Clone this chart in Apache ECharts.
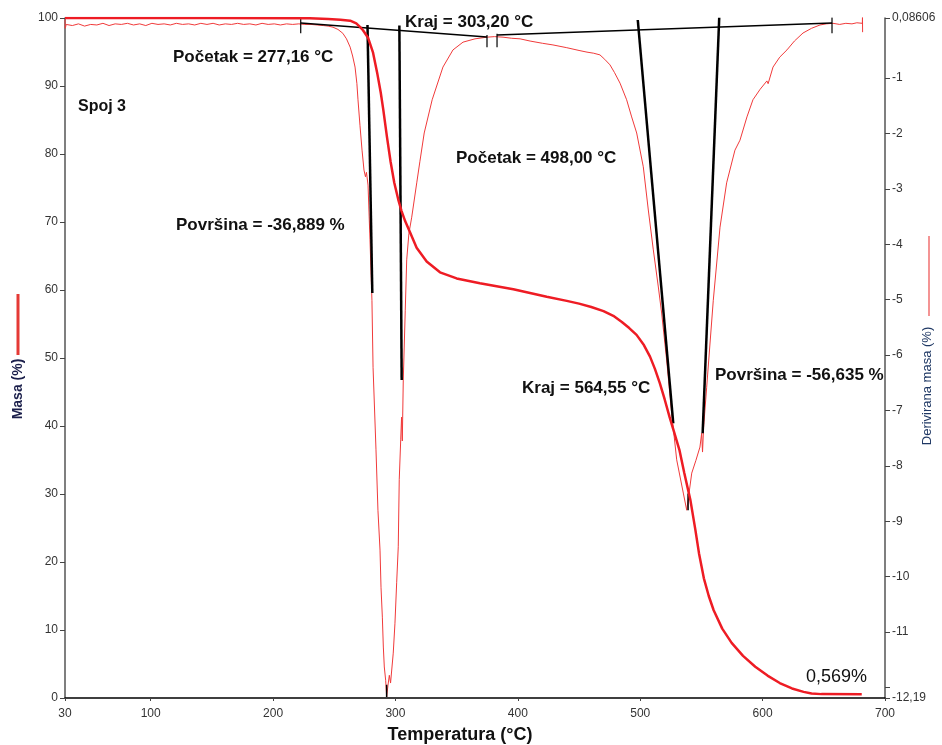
<!DOCTYPE html>
<html>
<head>
<meta charset="utf-8">
<title>Spoj 3 – TG/DTG</title>
<script src="https://cdn.jsdelivr.net/npm/echarts@6/dist/echarts.min.js"></script>
<style>
  html, body { margin: 0; padding: 0; background: #fff; }
  #chart { width: 942px; height: 745px; }
</style>
</head>
<body>
<div id="chart"></div>
<script>
// Temperature axis ticks (°C)
const tempTicks = [30, 100, 200, 300, 400, 500, 600, 700];
// Derivative-mass axis ticks and labels (%)
const dtgTicks = [0.08606, -1, -2, -3, -4, -5, -6, -7, -8, -9, -10, -11, -12, -12.19];
const dtgLabels = [0.08606, -1, -2, -3, -4, -5, -6, -7, -8, -9, -10, -11, -12.19];

// Mass loss curve: [temperature °C, mass %]
const massCurve = [
  [30, 100], [150, 100], [230, 99.95], [245, 99.85], [255, 99.75], [263, 99.6],
  [268, 99.2], [271, 98.7], [273.5, 98.2], [277.6, 97.1], [281.7, 94.9], [285, 92.0],
  [288, 89.0], [290, 86.6], [293, 82.6], [296, 78.9], [299, 75.8], [302.3, 73.3],
  [305, 71.6], [308, 70.1], [311.9, 68.5], [317.3, 66.2], [325.5, 64.2], [336.4, 62.6],
  [350, 61.7], [369, 61.0], [396.3, 60.1], [423.6, 59.0], [440, 58.4], [450, 58.0],
  [460, 57.5], [470, 56.9], [478, 56.2], [485, 55.3], [491, 54.4], [497, 53.4],
  [503, 51.9], [508, 50.2], [512, 48.4], [516, 46.3], [520, 43.9], [524, 41.3],
  [528, 38.9], [532, 36.5], [536, 33.1], [541, 29.1], [545, 24.8], [548, 21.3],
  [552, 17.6], [556, 15.0], [560, 12.9], [567, 10.2], [574.7, 8.1], [584, 6.2],
  [594, 4.6], [604, 3.3], [614, 2.2], [624, 1.4], [633.5, 0.9], [640, 0.65],
  [648, 0.57], [681, 0.569]
];

// Derivative mass curve: [temperature °C, derivative %]
const dtgCurve = [
  [30, 0.06], [30.2, -0.10], [31, -0.03], [36, -0.05], [41, -0.02], [46, -0.06],
  [51, -0.03], [56, -0.04], [61, -0.01], [66, -0.05], [71, -0.02], [76, -0.03],
  [81, -0.01], [86, -0.04], [91, -0.02], [96, -0.05], [101, -0.01], [106, -0.03],
  [111, -0.02], [116, -0.04], [121, -0.01], [126, -0.03], [131, -0.02], [136, -0.04],
  [141, -0.01], [146, -0.03], [151, -0.01], [156, -0.04], [161, -0.02], [166, -0.03],
  [171, -0.01], [176, -0.03], [181, -0.02], [186, -0.04], [191, -0.01], [196, -0.03],
  [201, -0.02], [206, -0.04], [211, -0.02], [216, -0.03], [221, -0.02], [226, -0.03],
  [231, -0.03], [236, -0.04], [241, -0.05], [245, -0.06], [249, -0.08], [253, -0.12],
  [257, -0.19], [260, -0.29], [263, -0.44], [265, -0.60], [267, -0.80], [268.5, -1.10],
  [269.4, -1.39], [271, -1.85], [272.7, -2.30], [274.3, -2.66], [275.5, -2.78], [276.3, -2.70],
  [277.6, -2.93], [279.2, -3.92], [280.8, -5.01], [281.7, -6.22], [284.1, -7.71], [285.7, -8.80],
  [287.4, -9.52], [288.2, -10.19], [289.3, -10.73], [290.1, -11.27], [290.9, -11.63], [292, -11.87],
  [292.8, -12.17], [293.9, -11.96], [295, -11.78], [296, -11.92], [298.2, -11.38], [299.6, -10.84],
  [301, -10.11], [302.3, -9.46], [303.1, -8.25], [304.3, -7.53], [305, -7.12], [305.6, -7.55],
  [306.4, -6.45], [308, -5.2], [309.2, -4.28], [311, -3.8], [313.3, -3.51], [317.4, -2.89],
  [320, -2.5], [323.5, -1.99], [330, -1.39], [338.8, -0.80], [347, -0.49], [355.2, -0.35],
  [365, -0.29], [374.8, -0.26], [381, -0.25], [387.9, -0.26], [395, -0.28], [401.8, -0.29],
  [410, -0.33], [420, -0.37], [428.7, -0.40], [440, -0.45], [450, -0.50], [456.5, -0.53],
  [462, -0.55], [467.1, -0.58], [471, -0.66], [475.3, -0.76], [479, -0.90], [483.5, -1.09],
  [488.9, -1.39], [493, -1.70], [497.1, -1.99], [502.5, -2.60], [506.6, -3.38], [510.7, -4.10],
  [514.8, -4.77], [517.5, -5.24], [521.6, -6.09], [525.7, -7.05], [529.8, -7.89], [535.2, -8.49],
  [538, -8.80], [542.1, -8.13], [545.5, -7.90], [548.8, -7.66], [550.2, -7.41], [550.9, -7.75],
  [551.8, -7.30], [554.3, -6.58], [559.7, -5.01], [565.2, -3.69], [570.6, -2.89], [577.4, -2.30],
  [581.5, -2.12], [587.2, -1.70], [592.1, -1.39], [598, -1.20], [603.5, -1.05], [604.5, -1.10],
  [608.5, -0.80], [614, -0.62], [619.9, -0.49], [626, -0.33], [633, -0.185], [640, -0.10],
  [646.9, -0.04], [652, -0.02], [657.5, -0.01], [663, -0.03], [668, -0.01], [673, -0.02],
  [677, 0.0], [681.5, -0.01], [681.6, 0.10], [681.7, -0.17]
];

// Onset/endset construction on the derivative curve: [temperature, derivative]
const baseline1 = [[222.6, -0.004], [374.8, -0.257]];
const baseline2 = [[383.0, -0.221], [656.7, -0.004]];
const tangent277 = [[277.16, -0.04], [281.1, -4.88]];
const tangent303 = [[303.2, -0.05], [305.1, -6.45]];
const tangent498 = [[498.0, 0.05], [527.0, -7.23]];
const tangent564 = [[564.55, 0.09], [551.0, -7.41]];
// Short vertical markers: [temperature, top, bottom]
const baselineMarks = [[222.6, 0.10, -0.19], [374.8, -0.22, -0.44], [383.0, -0.20, -0.44], [656.7, 0.10, -0.19]];
const peakMarks = [[292.8, -11.95, -12.17], [539.1, -8.50, -8.80]];

const FONT = '"Liberation Sans", Arial, sans-serif';
const decimalComma = v => String(v).replace('.', ',');

function segment(points, width) {
  return {
    type: 'line', yAxisIndex: 1, data: points, showSymbol: false, silent: true,
    lineStyle: { color: '#000', width: width }, z: 4
  };
}
function marks(list, width) {
  return list.map(m => segment([[m[0], m[1]], [m[0], m[2]]], width));
}

const chart = echarts.init(document.getElementById('chart'));
chart.setOption({
  animation: false,
  backgroundColor: '#fff',
  grid: { left: 65, right: 57, top: 18, bottom: 47 },
  xAxis: {
    type: 'value', min: 30, max: 700,
    axisLine: { show: true, lineStyle: { color: '#000', width: 1.5 } },
    axisTick: { show: true, length: 3, customValues: tempTicks, lineStyle: { color: '#444' } },
    axisLabel: { customValues: tempTicks, color: '#333', fontSize: 12, fontFamily: FONT, margin: 10 },
    splitLine: { show: false }
  },
  yAxis: [
    {
      type: 'value', min: 0, max: 100, interval: 10,
      axisLine: { show: true, lineStyle: { color: '#555', width: 1.5 } },
      axisTick: { show: true, length: 5, lineStyle: { color: '#444' } },
      axisLabel: { color: '#333', fontSize: 12, fontFamily: FONT, margin: 7 },
      splitLine: { show: false }
    },
    {
      type: 'value', position: 'right', min: -12.19, max: 0.08606,
      axisLine: { show: true, lineStyle: { color: '#555', width: 1.5 } },
      axisTick: { show: true, length: 5, customValues: dtgTicks, lineStyle: { color: '#444' } },
      axisLabel: {
        customValues: dtgLabels, formatter: decimalComma, hideOverlap: false,
        color: '#333', fontSize: 12, fontFamily: FONT, margin: 7
      },
      splitLine: { show: false }
    }
  ],
  series: [
    {
      name: 'Derivirana masa', type: 'line', yAxisIndex: 1, data: dtgCurve,
      showSymbol: false, lineStyle: { color: '#f03a3a', width: 1 }, z: 2
    },
    segment(baseline1, 1.6),
    segment(baseline2, 1.6),
    segment(tangent277, 2.5),
    segment(tangent303, 2.5),
    segment(tangent498, 2.5),
    segment(tangent564, 2.5),
    ...marks(baselineMarks, 1.2),
    ...marks(peakMarks, 1.5),
    {
      name: 'Masa', type: 'line', yAxisIndex: 0, data: massCurve,
      showSymbol: false, lineStyle: { color: '#ee1c24', width: 2.5 }, z: 5
    }
  ],
  graphic: [
    { type: 'text', x: 78, y: 107, style: { text: 'Spoj 3', font: 'bold 16px ' + FONT, fill: '#111', textVerticalAlign: 'middle' } },
    { type: 'text', x: 173, y: 57, style: { text: 'Početak = 277,16 °C', font: 'bold 17px ' + FONT, fill: '#111', textVerticalAlign: 'middle' } },
    { type: 'text', x: 176, y: 225, style: { text: 'Površina = -36,889 %', font: 'bold 17px ' + FONT, fill: '#111', textVerticalAlign: 'middle' } },
    { type: 'text', x: 405, y: 22, style: { text: 'Kraj = 303,20 °C', font: 'bold 17px ' + FONT, fill: '#111', textVerticalAlign: 'middle' } },
    { type: 'text', x: 456, y: 158, style: { text: 'Početak = 498,00 °C', font: 'bold 17px ' + FONT, fill: '#111', textVerticalAlign: 'middle' } },
    { type: 'text', x: 522, y: 388, style: { text: 'Kraj = 564,55 °C', font: 'bold 17px ' + FONT, fill: '#111', textVerticalAlign: 'middle' } },
    { type: 'text', x: 715, y: 375, style: { text: 'Površina = -56,635 %', font: 'bold 17px ' + FONT, fill: '#111', textVerticalAlign: 'middle' } },
    { type: 'text', x: 806, y: 677, style: { text: '0,569%', font: '18px ' + FONT, fill: '#111', textVerticalAlign: 'middle' } },
    { type: 'text', x: 460, y: 735, style: { text: 'Temperatura (°C)', font: 'bold 18px ' + FONT, fill: '#111', textAlign: 'center', textVerticalAlign: 'middle' } },
    // left axis title with its line swatch
    { type: 'line', shape: { x1: 18, y1: 294, x2: 18, y2: 355 }, style: { stroke: '#e53935', lineWidth: 3 } },
    { type: 'text', x: 18, y: 389, rotation: Math.PI / 2, style: { text: 'Masa (%)', font: 'bold 14px ' + FONT, fill: '#1b1f4b', textAlign: 'center', textVerticalAlign: 'middle' } },
    // right axis title with its line swatch
    { type: 'line', shape: { x1: 929, y1: 236, x2: 929, y2: 316 }, style: { stroke: '#f07070', lineWidth: 1.5 } },
    { type: 'text', x: 927, y: 386, rotation: Math.PI / 2, style: { text: 'Derivirana masa (%)', font: '13px ' + FONT, fill: '#1f3864', textAlign: 'center', textVerticalAlign: 'middle' } }
  ]
});
</script>
</body>
</html>
